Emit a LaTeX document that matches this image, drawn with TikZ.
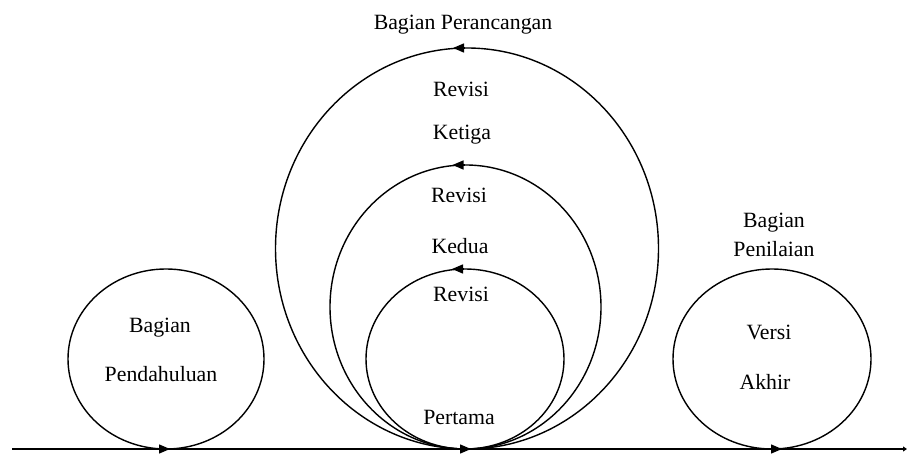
\documentclass[tikz,border=0pt]{standalone}
\usepackage{fontspec}
\setmainfont{Liberation Serif}
\usepackage{tikz}
\usetikzlibrary{shapes.geometric, positioning, arrows.meta}
\newcommand{\px}{0.02cm}
\tikzset{
    loopnode/.style={
        draw, ellipse, line width=0.8pt, inner sep=0pt, outer sep=0pt
    },
    wordnode/.style={
        font=\fontsize{12.4}{15}\selectfont, inner sep=0pt, anchor=base
    },
    tipptr/.style={
        -{Triangle[length=0.22cm, width=0.18cm]}, line width=0.8pt
    }
}
\begin{document}
\begin{tikzpicture}[x=\px, y=\px]
    \useasboundingbox (0,0) rectangle (909,455);
    % base line
    \coordinate (start) at (12,6);
    \coordinate (finish) at (907,6);
    \draw[line width=1pt, -{Triangle[length=0.08cm, width=0.1cm]}] (start) -- (finish);
    % loops
    \node[loopnode, minimum width=196*\px, minimum height=180*\px] (intro) at (166,96) {};
    \node[loopnode, minimum width=383*\px, minimum height=401*\px] (third) at (467,206.5) {};
    \node[loopnode, minimum width=271*\px, minimum height=284*\px] (second) at (465.5,148) {};
    \node[loopnode, minimum width=198*\px, minimum height=180*\px] (first) at (465,96) {};
    \node[loopnode, minimum width=198*\px, minimum height=180*\px] (final) at (772,96) {};
    % arrow tips
    \draw[tipptr] ([xshift=-2*\px]third.north) -- ([xshift=-14*\px]third.north);
    \draw[tipptr] ([xshift=-1*\px]second.north) -- ([xshift=-13*\px]second.north);
    \draw[tipptr] ([xshift=-1*\px]first.north) -- ([xshift=-13*\px]first.north);
    \draw[tipptr] ([xshift=-8*\px]intro.south) -- ([xshift=4*\px]intro.south);
    \draw[tipptr] ([xshift=-6*\px]first.south) -- ([xshift=6*\px]first.south);
    \draw[tipptr] ([xshift=-2*\px]final.south) -- ([xshift=10*\px]final.south);
    % labels
    \node[wordnode] (designlbl) at (463,425) {Bagian Perancangan};
    \node[wordnode] (rev3) at (461,358) {Revisi};
    \node[wordnode] (third-lbl) at (462,315) {Ketiga};
    \node[wordnode] (rev2) at (459,252) {Revisi};
    \node[wordnode] (second-lbl) at (460,201) {Kedua};
    \node[wordnode] (rev1) at (461,153) {Revisi};
    \node[wordnode] (first-lbl) at (459,30) {Pertama};
    \node[wordnode] (intro-top) at (160,122) {Bagian};
    \node[wordnode] (intro-bot) at (161,73) {Pendahuluan};
    \node[wordnode] (eval-top) at (774,227) {Bagian};
    \node[wordnode] (eval-bot) at (774,198) {Penilaian};
    \node[wordnode] (final-top) at (769,115) {Versi};
    \node[wordnode] (final-bot) at (765,65) {Akhir};
\end{tikzpicture}
\end{document}
